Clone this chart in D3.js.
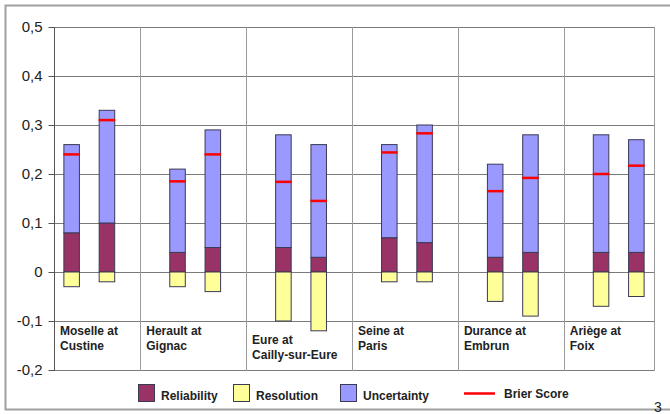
<!DOCTYPE html>
<html><head><meta charset="utf-8">
<script src="https://cdn.jsdelivr.net/npm/d3@7"></script>
<style>html,body{margin:0;padding:0;background:#fff}svg{display:block}</style>
</head><body>
<script>
// ---- data ----
const stations = ["Moselle at|Custine", "Herault at|Gignac", "Eure at|Cailly-sur-Eure", "Seine at|Paris", "Durance at|Embrun", "Ariège at|Foix"];
const reliability = [[0.08, 0.10], [0.04, 0.05], [0.05, 0.03], [0.07, 0.06], [0.03, 0.04], [0.04, 0.04]];
const resolution  = [[-0.03, -0.02], [-0.03, -0.04], [-0.10, -0.12], [-0.02, -0.02], [-0.06, -0.09], [-0.07, -0.05]];
const uncertainty = [[0.18, 0.23], [0.17, 0.24], [0.23, 0.23], [0.19, 0.24], [0.19, 0.24], [0.24, 0.23]];
const brier       = [[0.240, 0.310], [0.185, 0.240], [0.184, 0.145], [0.244, 0.283], [0.165, 0.192], [0.200, 0.217]];
const yTicks = [-0.2, -0.1, 0, 0.1, 0.2, 0.3, 0.4, 0.5];
const legendItems = ["Reliability", "Resolution", "Uncertainty", "Brier Score"];

// ---- layout ----
const W = 670, H = 414;
const plot = {l: 54, r: 654, t: 27, b: 370};
const colors = {rel: "#993366", res: "#FFFF99", unc: "#9999FF", bs: "#FF0000"};

const svg = d3.select("body").append("svg").attr("width", W).attr("height", H)
  .style("font-family", "'Liberation Sans', Arial, sans-serif");

// outer frame
svg.append("rect").attr("x", 5.5).attr("y", 5.5).attr("width", W).attr("height", 404)
  .attr("fill", "none").attr("stroke", "#a0a0a0").attr("stroke-width", 2);

const y = d3.scaleLinear().domain([-0.2, 0.5]).range([plot.b, plot.t]);

// slots: two bars per station + spacer between stations
const slots = [];
stations.forEach((s, i) => {
  slots.push(i + "-0", i + "-1");
  if (i < stations.length - 1) slots.push(i + "-s");
});
const x = d3.scaleBand().domain(slots).range([plot.l, plot.r]).padding(0);
const bw = x.bandwidth() * 0.44;

// horizontal gridlines
svg.append("g").selectAll("line").data(yTicks).join("line")
  .attr("x1", plot.l).attr("x2", plot.r)
  .attr("y1", d => Math.round(y(d)) + 0.5).attr("y2", d => Math.round(y(d)) + 0.5)
  .attr("stroke", "#7a7a7a").attr("stroke-width", 1);

// vertical separators
const seps = stations.slice(0, -1).map((s, i) => x(i + "-s") + x.bandwidth() / 2 - 2);
svg.append("g").selectAll("line").data(seps.concat([plot.r])).join("line")
  .attr("x1", d => Math.round(d) + 0.5).attr("x2", d => Math.round(d) + 0.5)
  .attr("y1", plot.t).attr("y2", plot.b + 1)
  .attr("stroke", "#9a9a9a").attr("stroke-width", 1);

// y axis
const yAxis = d3.axisLeft(y).tickValues(yTicks).tickSize(6).tickPadding(6)
  .tickFormat(d => d === 0 ? "0" : d3.format(".1f")(d).replace(".", ",").replace("−", "-"));
const ga = svg.append("g").attr("transform", `translate(${plot.l + 0.5},0)`).call(yAxis);
ga.selectAll(".tick").attr("transform", d => `translate(0,${Math.round(y(d)) + 0.5})`);
ga.select(".domain").attr("stroke", "#555").attr("d", `M0,${plot.t}V${plot.b + 1}`);
ga.selectAll(".tick line").attr("stroke", "#555");
ga.selectAll(".tick text").attr("font-size", 15).attr("fill", "#222")
  .attr("font-family", "'Liberation Sans', Arial, sans-serif");

// bars
const bars = [];
stations.forEach((s, i) => {
  [0, 1].forEach(j => {
    const cx = x(i + "-" + j) + x.bandwidth() / 2;
    bars.push({cx, rel: reliability[i][j], res: resolution[i][j], unc: uncertainty[i][j], bs: brier[i][j]});
  });
});
const gb = svg.append("g");
const segs = [];
bars.forEach(b => {
  segs.push({cx: b.cx, y0: 0, y1: b.rel, c: colors.rel});
  segs.push({cx: b.cx, y0: b.rel, y1: b.rel + b.unc, c: colors.unc});
  segs.push({cx: b.cx, y0: b.res, y1: 0, c: colors.res});
});
gb.selectAll("rect").data(segs).join("rect")
  .attr("x", d => d.cx - bw / 2).attr("width", bw)
  .attr("y", d => y(d.y1)).attr("height", d => y(d.y0) - y(d.y1))
  .attr("fill", d => d.c).attr("stroke", "#3a3a55").attr("stroke-width", 1);

// brier score markers
svg.append("g").selectAll("line").data(bars).join("line")
  .attr("x1", d => d.cx - bw / 2 - 0.5).attr("x2", d => d.cx + bw / 2 + 0.5)
  .attr("y1", d => y(d.bs)).attr("y2", d => y(d.bs))
  .attr("stroke", colors.bs).attr("stroke-width", 2.5);

// category labels
const labelLeft = [plot.l].concat(seps);
const labelDy = [0, 0, 9, 0, 0, 0];
const gl = svg.append("g");
stations.forEach((s, i) => {
  const t = gl.append("text").attr("x", labelLeft[i] + 6).attr("y", 335 + labelDy[i])
    .attr("font-size", 12).attr("font-weight", "bold").attr("fill", "#222");
  s.split("|").forEach((line, k) => {
    t.append("tspan").attr("x", labelLeft[i] + 6).attr("dy", k === 0 ? 0 : 15).text(line);
  });
});

// legend
const lg = svg.append("g");
const legX = [138, 233, 340, 464];
const legC = [colors.rel, colors.res, colors.unc, colors.bs];
legendItems.forEach((name, i) => {
  if (i < 3) {
    lg.append("rect").attr("x", legX[i] + 0.5).attr("y", 384.5).attr("width", 16).attr("height", 17)
      .attr("fill", legC[i]).attr("stroke", "#3a3a55");
    lg.append("text").attr("x", legX[i] + 23).attr("y", 400).attr("font-size", 12)
      .attr("font-weight", "bold").attr("fill", "#222").text(name);
  } else {
    lg.append("line").attr("x1", legX[i]).attr("x2", legX[i] + 31).attr("y1", 393.5).attr("y2", 393.5)
      .attr("stroke", legC[i]).attr("stroke-width", 2.5);
    lg.append("text").attr("x", legX[i] + 40).attr("y", 398).attr("font-size", 12)
      .attr("font-weight", "bold").attr("fill", "#222").text(name);
  }
});

// page number
svg.append("text").attr("x", 654).attr("y", 412).attr("font-size", 14).attr("fill", "#222").text("3");
</script>
</body></html>
